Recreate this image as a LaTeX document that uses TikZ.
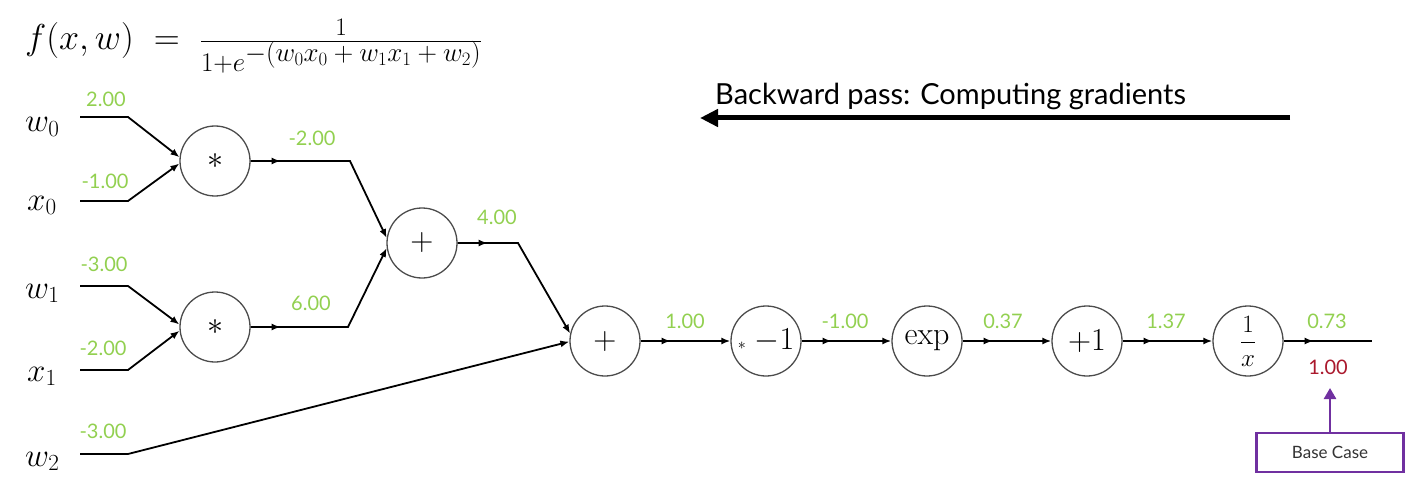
\documentclass[tikz,border=0pt]{standalone}
\usepackage{fix-cm}
\usepackage{fontspec}
\setsansfont{Lato}
\usetikzlibrary{arrows.meta,decorations.markings}
\definecolor{grn}{RGB}{146,208,80}
\definecolor{dred}{RGB}{170,25,45}
\definecolor{purp}{RGB}{112,48,160}
\begin{document}
\begin{tikzpicture}[x=1pt,y=1pt,
 op/.style={circle,draw=black!70,line width=1.3pt,minimum size=70pt,inner sep=0pt,font=\fontsize{32}{32}\selectfont},
 wire/.style={line width=1.8pt,-{Latex[length=9pt,width=7pt]}},
 plainwire/.style={line width=1.8pt},
 midarrow/.style={postaction={decorate},decoration={markings,mark=at position 30pt with {\arrow{Latex[length=9pt,width=7pt]}}}},
 val/.style={text=grn,font=\sffamily\fontsize{20}{20}\selectfont,inner sep=0pt},
 var/.style={font=\fontsize{33}{33}\selectfont,inner sep=0pt,anchor=base west}]
\useasboundingbox (0,0) rectangle (1412,-497);

% formula
\node[inner sep=0pt,anchor=base west,font=\fontsize{36}{36}\selectfont] (fml) at (25,-50)
 {$f(x,w) \;=\; \frac{1}{\hbox{\fontsize{27}{27}\selectfont$1{+}e^{\textstyle -(w_0x_0+w_1x_1+w_2)}$}}$};

% backward pass
\node[inner sep=0pt,anchor=base west,font=\sffamily\fontsize{29}{29}\selectfont] (bp) at (715,-105) {Backward pass: Computing gradients};
\coordinate (bs) at (1290,-118);
\coordinate (be) at (700,-118);
\draw[line width=5pt,-{Triangle[length=18pt,width=17pt]}] (bs) -- (be);

% variables
\node[var] (w0) at (25,-132) {$w_0$};
\node[var] (x0) at (27,-210) {$x_0$};
\node[var] (w1) at (25,-298) {$w_1$};
\node[var] (x1) at (27,-381) {$x_1$};
\node[var] (w2) at (25,-466) {$w_2$};

% operation nodes
\node[op] (m1) at (215,-161) {$*$};
\node[op] (m2) at (215,-327) {$*$};
\node[op] (p1) at (422,-243) {$+$};
\node[op] (p2) at (605,-341) {$+$};
\node[op] (n1) at (766,-341) {{\fontsize{16}{16}\selectfont$*$}\;$-1$};
\node[op] (ex) at (927,-341) {exp};
\node[op] (a1) at (1087,-341) {$+1$};
\node[op] (inv) at (1248,-341) {\fontsize{25}{25}\selectfont$\displaystyle\frac{1}{x}$};

% input wire points
\coordinate (w0s) at (80,-117);  \coordinate (w0b) at (128,-117);
\coordinate (x0s) at (80,-201);  \coordinate (x0b) at (128,-201);
\coordinate (w1s) at (80,-286);  \coordinate (w1b) at (128,-286);
\coordinate (x1s) at (80,-370);  \coordinate (x1b) at (128,-370);
\coordinate (w2s) at (80,-454);  \coordinate (w2b) at (128,-454);
\coordinate (m1b) at (350,-161);
\coordinate (m2b) at (348,-327);
\coordinate (p1b) at (518,-243);
\coordinate (out) at (1372,-341);

% wires
\draw[wire] (w0s) -- (w0b) -- (m1.174);
\draw[wire] (x0s) -- (x0b) -- (m1.184);
\draw[wire] (w1s) -- (w1b) -- (m2.176);
\draw[wire] (x1s) -- (x1b) -- (m2.186);
\draw[wire] (w2s) -- (w2b) -- (p2.181);
\draw[wire,midarrow] (m1.east) -- (m1b) -- (p1.172);
\draw[wire,midarrow] (m2.east) -- (m2b) -- (p1.188);
\draw[wire,midarrow] (p1.east) -- (p1b) -- (p2.168);
\draw[wire,midarrow] (p2) -- (n1);
\draw[wire,midarrow] (n1) -- (ex);
\draw[wire,midarrow] (ex) -- (a1);
\draw[wire,midarrow] (a1) -- (inv);
\draw[plainwire,midarrow] (inv) -- (out);

% values
\node[val] (v1) at (106,-99) {2.00};
\node[val] (v2) at (105,-181) {-1.00};
\node[val] (v3) at (312,-138) {-2.00};
\node[val] (v4) at (104,-264) {-3.00};
\node[val] (v5) at (103,-348) {-2.00};
\node[val] (v6) at (311,-303) {6.00};
\node[val] (v7) at (103,-431) {-3.00};
\node[val] (v8) at (497,-217) {4.00};
\node[val] (v9) at (685,-321) {1.00};
\node[val] (v10) at (845,-321) {-1.00};
\node[val] (v11) at (1003,-321) {0.37};
\node[val] (v12) at (1166,-321) {1.37};
\node[val] (v13) at (1327,-321) {0.73};
\node[val,text=dred] (r1) at (1328,-367) {1.00};

% base case
\node[draw=purp,line width=2.5pt,minimum width=147pt,minimum height=39pt,inner sep=0pt,
      font=\sffamily\fontsize{17}{17}\selectfont,text=black!80] (bc) at (1330,-452.5) {Base Case};
\coordinate (bctip) at (1330,-388);
\draw[purp,line width=2.5pt,-{Triangle[length=11pt,width=12pt]}] (bc.north) -- (bctip);
\end{tikzpicture}
\end{document}
